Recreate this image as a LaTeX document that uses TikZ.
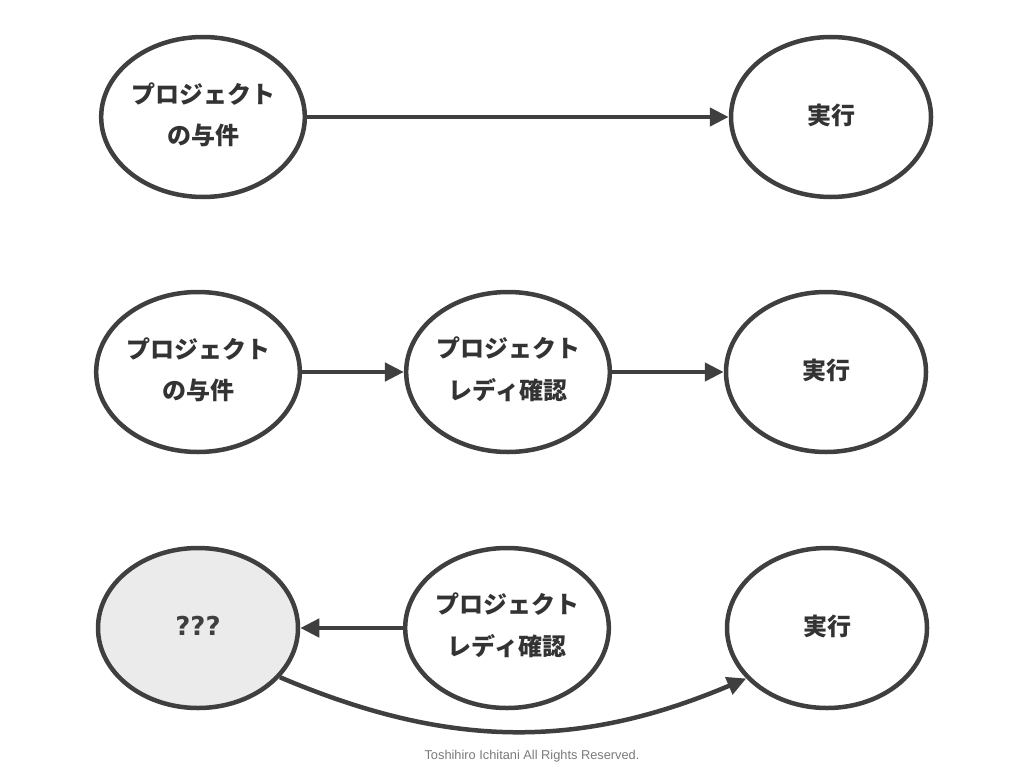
\documentclass[tikz,border=0pt]{standalone}
\usepackage{fontspec}
\setmainfont{Liberation Sans}
\newfontfamily\jp{Noto Sans CJK JP}
\newfontfamily\qfont{DejaVu Sans}
\usetikzlibrary{shapes.geometric,arrows.meta}
\definecolor{ln}{HTML}{3F3F3F}
\definecolor{tx}{HTML}{333333}
\definecolor{gfill}{HTML}{EBEBEB}
\definecolor{foot}{HTML}{7A7A7A}
\tikzset{
  oval/.style={ellipse, draw=ln, line width=4.5pt, fill=white, minimum width=200pt, minimum height=160pt, inner sep=0pt,
    text=tx, font=\jp\bfseries\fontsize{24}{41}\selectfont, align=center},
  qoval/.style={oval, fill=gfill, font=\qfont\bfseries\fontsize{26}{30}\selectfont, text=ln},
  conn/.style={draw=ln, line width=4.5pt, -{Triangle[length=19pt,width=18pt]}},
}
\begin{document}
\begin{tikzpicture}[x=1pt,y=-1pt]
\useasboundingbox (0,0) rectangle (1024,768);
% row 1
\node[oval] (p1) at (203,117) {\raisebox{7pt}{\shortstack{プロジェクト\\[16pt]の与件}}};
\node[oval] (e1) at (831,117) {\raisebox{6pt}{実行}};
\draw[conn] (p1) -- (e1);
% row 2
\node[oval] (p2) at (198,372) {\raisebox{7pt}{\shortstack{プロジェクト\\[16pt]の与件}}};
\node[oval] (r2) at (508,372) {\raisebox{7pt}{\shortstack{プロジェクト\\[16pt]レディ確認}}};
\node[oval] (e2) at (826,372) {\raisebox{6pt}{実行}};
\draw[conn] (p2) -- (r2);
\draw[conn] (r2) -- (e2);
% row 3
\node[qoval] (q3) at (198,628) {\raisebox{5pt}{???}};
\node[oval] (r3) at (507,628) {\raisebox{7pt}{\shortstack{プロジェクト\\[16pt]レディ確認}}};
\node[oval] (e3) at (827,628) {\raisebox{6pt}{実行}};
\draw[conn] (r3) -- (q3);
\draw[conn] (q3.-31) to[out=-23,in=-157] (e3.-148);
% footer
\node[font=\fontsize{12.8}{14}\selectfont, text=foot] (ft) at (532,756) {Toshihiro Ichitani All Rights Reserved.};
\end{tikzpicture}
\end{document}
